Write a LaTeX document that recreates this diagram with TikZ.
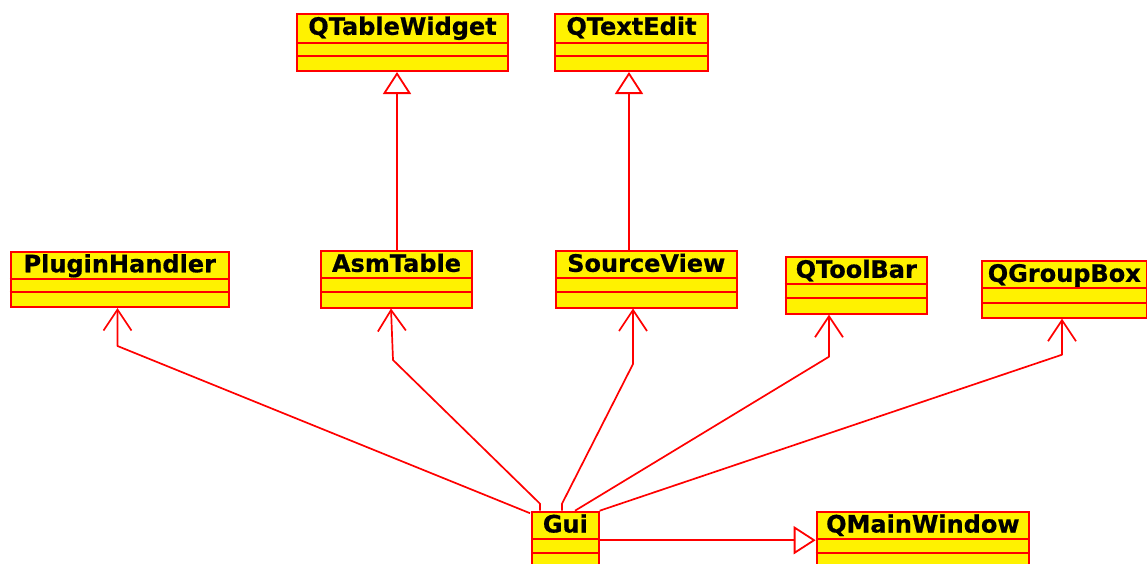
\documentclass[tikz,border=0pt]{standalone}
\usepackage{fontspec}
\setmainfont{DejaVu Sans}
\usetikzlibrary{arrows.meta,calc}

% class box: name, left, top, width, first divider, second divider, height, title
\newcommand\umlclass[8]{%
  \node[classbox, minimum width={#4}, minimum height={#7}, anchor=north west] (#1) at (#2,#3) {};
  \draw[classline] ($(#1.north west)+(0,#5)$) -- ($(#1.north east)+(0,#5)$);
  \draw[classline] ($(#1.north west)+(0,#6)$) -- ($(#1.north east)+(0,#6)$);
  \node[classtitle] (#1-title) at ($(#1.north)+(0,21.8)$) {#8};
}

\begin{document}
\begin{tikzpicture}[
    x=1pt, y=-1pt,
    classbox/.style={draw=red, fill=yellow, line width=2pt, inner sep=0pt, rectangle},
    classline/.style={draw=red, line width=1.8pt},
    classtitle/.style={anchor=base, inner sep=0pt, font=\fontsize{24}{26}\selectfont\bfseries\addfontfeature{FakeBold=0.6}, text=black},
    gen/.style={draw=red, line width=1.8pt, -{Triangle[open, length=22pt, width=28pt, fill=white]}},
    dep/.style={draw=red, line width=1.7pt, line join=round, -{Straight Barb[length=21pt, width=28pt, line width=1.7pt]}},
  ]
  \useasboundingbox (0,0) rectangle (1147,563);

  % classes
  \umlclass{tw}{296}{13}{211}{30}{43}{57}{QTableWidget}
  \umlclass{te}{554}{13}{153}{30}{43}{57}{QTextEdit}
  \umlclass{ph}{9.5}{250.5}{218.5}{28.5}{41.5}{55.5}{PluginHandler}
  \umlclass{asm}{320}{250}{151}{28}{42}{56.5}{AsmTable}
  \umlclass{sv}{555}{250}{180.5}{28}{42}{56.5}{SourceView}
  \umlclass{tb}{784.5}{256}{141.5}{28.3}{42.3}{56.7}{QToolBar}
  \umlclass{gb}{981}{260}{164.5}{28.3}{42.7}{56.7}{QGroupBox}
  \umlclass{gui}{531}{510.7}{66.7}{28.6}{42.6}{60}{Gui}
  \umlclass{mw}{815.7}{510.7}{212.3}{28.6}{42.6}{60}{QMainWindow}

  % inheritance
  \draw[gen] ($(asm.north west)+(77,0)$) -- ($(tw.south west)+(101,0)$);
  \draw[gen] ($(sv.north west)+(74,0)$) -- ($(te.south west)+(75,0)$);
  \draw[gen] ($(gui.north east)+(0,29.5)$) -- ($(mw.north west)+(0,29.5)$);

  % dependencies
  \draw[dep] ($(gui.north west)+(-1,2.5)$) -- ($(ph.south west)+(108,38)$) -- ($(ph.south west)+(108,0)$);
  \draw[dep] ($(gui.north west)+(9,0)$) -- ++(0,-7) -- ($(asm.south west)+(73,51.5)$) -- ($(asm.south west)+(71,0)$);
  \draw[dep] ($(gui.north west)+(31,0)$) -- ++(0,-7) -- ($(sv.south west)+(78,55.5)$) -- ($(sv.south west)+(78,0)$);
  \draw[dep] ($(gui.north west)+(44,0)$) -- ($(tb.south west)+(44.5,42)$) -- ($(tb.south west)+(44.5,0)$);
  \draw[dep] (gui.north east) -- ($(gb.south west)+(81,36)$) -- ($(gb.south west)+(81,0)$);
\end{tikzpicture}
\end{document}
